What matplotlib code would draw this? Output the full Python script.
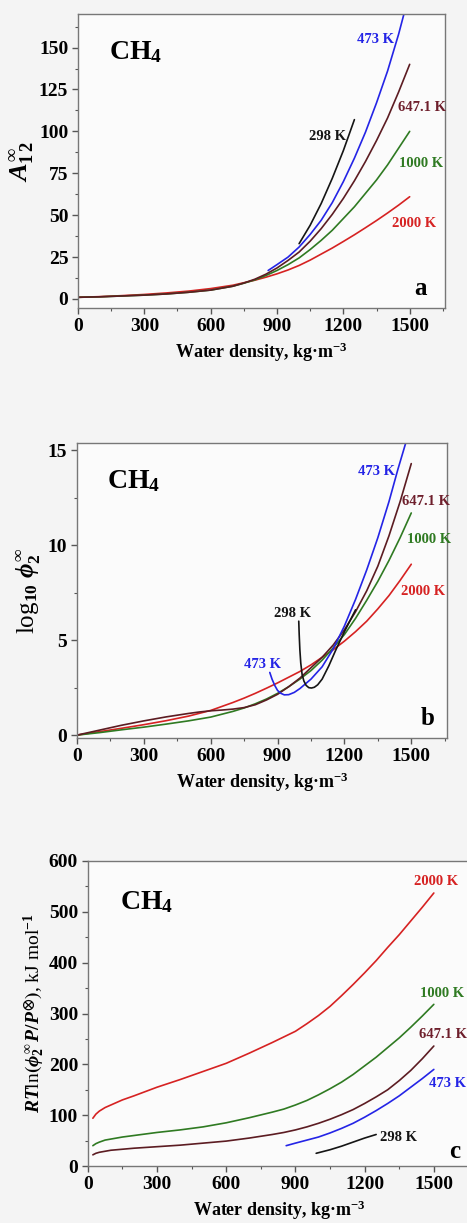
"""CH4 in water: A12, log10 phi2 and RT ln(phi2 P/P0) versus water density."""
import matplotlib
matplotlib.use("Agg")
import matplotlib.pyplot as plt
from matplotlib.ticker import MultipleLocator

plt.rcParams["font.family"] = ["Liberation Serif", "DejaVu Serif"]
plt.rcParams["font.weight"] = "bold"
plt.rcParams["mathtext.fontset"] = "custom"
plt.rcParams["mathtext.rm"] = "Liberation Serif:bold"
plt.rcParams["mathtext.it"] = "Liberation Serif:italic:bold"
plt.rcParams["mathtext.bf"] = "Liberation Serif:bold"
plt.rcParams["mathtext.fallback"] = "stix"

COLORS = {
    "298 K": "#151515",
    "473 K": "#2424e6",
    "647.1 K": "#5c1c22",
    "1000 K": "#2f7a22",
    "2000 K": "#d62222",
}
LABEL_COLORS = dict(COLORS, **{"647.1 K": "#6e1f2c"})

RHO_FULL = [0, 100, 200, 300, 400, 500, 600, 700, 750, 800, 850, 900, 950, 1000, 1050,
            1100, 1150, 1200, 1250, 1300, 1350, 1400, 1450, 1500]

# ---- panel a: A12 infinity ----
a_x = {
    "298 K": [1000, 1050, 1100, 1150, 1200, 1250],
    "473 K": [860, 900, 950, 1000, 1050, 1100, 1150, 1200, 1250, 1300, 1350, 1400, 1450, 1478],
    "647.1 K": RHO_FULL,
    "1000 K": RHO_FULL,
    "2000 K": RHO_FULL,
}
a_y = {
    "298 K": [33, 44, 57, 72, 88.5, 107],
    "473 K": [17, 20.5, 25, 31, 38.5, 47, 57.5, 70, 84, 99.5, 117, 136, 158, 172],
    "647.1 K": [1, 1.3, 1.8, 2.3, 3.0, 4.0, 5.3, 7.6, 9.5, 11.8, 14.8, 18.5, 23, 28, 34.5,
                42, 50.5, 60, 70.5, 82, 94.5, 108, 123.5, 140],
    "1000 K": [1, 1.3, 1.8, 2.3, 3.0, 4.0, 5.3, 7.6, 9.4, 11.4, 14, 17, 20.5, 24.5, 29.5,
               35, 41, 48, 55, 63, 71, 80, 90, 100],
    "2000 K": [1, 1.4, 2.0, 2.7, 3.6, 4.7, 6.2, 8.2, 9.7, 11.2, 13, 15, 17.3, 20, 23.2,
               26.8, 30.4, 34.3, 38.3, 42.5, 46.8, 51.3, 56, 61],
}
a_labels = {
    "473 K": (1430, 155, "right"),
    "647.1 K": (1445, 114, "left"),
    "298 K": (1212, 97, "right"),
    "1000 K": (1450, 81, "left"),
    "2000 K": (1418, 45, "left"),
}

# ---- panel b: log10 phi2 infinity ----
b_x = {
    "2000 K": RHO_FULL,
    "1000 K": RHO_FULL,
    "647.1 K": [0, 100, 200, 300, 400, 500, 550, 600, 650, 700, 750, 800, 850, 900, 950,
                1000, 1050, 1100, 1150, 1200, 1250, 1300, 1350, 1400, 1450, 1500],
    "473 K": [865, 875, 888, 900, 915, 930, 950, 975, 1000, 1050, 1100, 1150, 1200, 1250,
              1300, 1350, 1400, 1440, 1478],
    "298 K": [995, 997, 1000, 1004, 1010, 1018, 1028, 1040, 1052, 1065, 1080, 1100, 1130,
              1160, 1200, 1250],
}
b_y = {
    "2000 K": [0, 0.18, 0.36, 0.55, 0.76, 1.0, 1.3, 1.72, 1.95, 2.2, 2.47, 2.75, 3.05, 3.35,
               3.7, 4.1, 4.5, 4.95, 5.45, 6.0, 6.65, 7.35, 8.15, 9.0],
    "1000 K": [0, 0.13, 0.28, 0.42, 0.58, 0.75, 0.95, 1.25, 1.43, 1.65, 1.9, 2.2, 2.55, 2.95,
               3.4, 3.95, 4.6, 5.3, 6.15, 7.1, 8.1, 9.2, 10.4, 11.7],
    "647.1 K": [0, 0.26, 0.52, 0.75, 0.96, 1.14, 1.22, 1.28, 1.32, 1.37, 1.45, 1.6, 1.85, 2.15,
                2.55, 3.0, 3.55, 4.1, 4.75, 5.55, 6.5, 7.6, 8.9, 10.5, 12.3, 14.3],
    "473 K": [3.3, 2.95, 2.6, 2.35, 2.2, 2.12, 2.13, 2.25, 2.45, 2.95, 3.6, 4.55, 5.75, 7.15,
              8.7, 10.4, 12.3, 14.0, 15.5],
    "298 K": [6.0, 5.3, 4.5, 3.8, 3.2, 2.85, 2.62, 2.5, 2.48, 2.52, 2.65, 2.95, 3.65,
              4.45, 5.45, 6.6],
}
b_labels = {
    "473 K": (1425, 13.9, "right"),
    "647.1 K": (1458, 12.3, "left"),
    "1000 K": (1482, 10.3, "left"),
    "2000 K": (1452, 7.55, "left"),
}
b_extra = [("298 K", 968, 6.4), ("473 K", 832, 3.7)]

# ---- panel c: RT ln(phi2 P/P0), kJ/mol ----
RHO_C = [22, 35, 50, 75, 100, 150, 200, 300, 400, 500, 600, 700, 800, 850, 900, 950, 1000,
         1050, 1100, 1150, 1200, 1250, 1300, 1350, 1400, 1450, 1500]
c_x = {
    "2000 K": RHO_C,
    "1000 K": RHO_C,
    "647.1 K": RHO_C,
    "473 K": [860, 900, 950, 1000, 1050, 1100, 1150, 1200, 1250, 1300, 1350, 1400, 1450, 1500],
    "298 K": [990, 1050, 1100, 1150, 1200, 1250],
}
c_y = {
    "2000 K": [94, 102, 108, 115, 120, 130, 138, 155, 170, 186, 202, 222, 243, 254, 265,
               280, 296, 314, 335, 357, 380, 404, 430, 455, 482, 509, 537],
    "1000 K": [40, 44, 47, 51, 53, 57, 60, 66, 71, 77, 85, 95, 106, 112, 120, 129, 140,
               152, 165, 180, 197, 214, 233, 252, 273, 295, 318],
    "647.1 K": [22, 25, 27, 29, 31, 33, 35, 38, 41, 45, 49, 55, 62, 66, 71, 77, 84, 92, 101,
                111, 123, 136, 150, 168, 188, 211, 236],
    "473 K": [40, 45, 51, 57, 65, 74, 84, 96, 109, 123, 138, 155, 172, 190],
    "298 K": [25, 32, 39, 47, 55, 62],
}
c_labels = {
    "2000 K": (1412, 559, "left"),
    "1000 K": (1442, 340, "left"),
    "647.1 K": (1436, 258, "left"),
    "473 K": (1478, 163, "left"),
    "298 K": (1268, 57, "left"),
}


def style_axes(ax, ylim, ymajor, yminor):
    ax.set_facecolor("#fbfbfb")
    ax.set_xlim(0, 1660)
    ax.set_ylim(*ylim)
    ax.xaxis.set_major_locator(MultipleLocator(300))
    ax.xaxis.set_minor_locator(MultipleLocator(150))
    ax.yaxis.set_major_locator(MultipleLocator(ymajor))
    ax.yaxis.set_minor_locator(MultipleLocator(yminor))
    ax.tick_params(which="major", direction="out", length=4, width=1, labelsize=14,
                   color="#555555", pad=3)
    ax.tick_params(which="minor", direction="out", length=2.5, width=0.8, color="#555555")
    for lab in ax.get_xticklabels() + ax.get_yticklabels():
        lab.set_fontweight("bold")
    for s in ax.spines.values():
        s.set_color("#777777")
        s.set_linewidth(1.0)
    ax.set_xlabel("Water density, kg\u00b7m$^{\\mathbf{-3}}$", fontsize=13,
                  fontweight="bold", labelpad=4)


def draw(ax, xs, ys):
    for key in ["2000 K", "1000 K", "647.1 K", "473 K", "298 K"]:
        ax.plot(xs[key], ys[key], color=COLORS[key], lw=1.2, solid_capstyle="round")


def put_labels(ax, labels):
    for key, (x, y, ha) in labels.items():
        ax.text(x, y, key, color=LABEL_COLORS[key], fontsize=10.5, fontweight="bold",
                ha=ha, va="center")


fig = plt.figure(figsize=(4.67, 12.23), dpi=100, facecolor="#f4f4f4")

# panel a
ax1 = fig.add_axes([0.167, 0.748, 0.786, 0.2405])
draw(ax1, a_x, a_y)
style_axes(ax1, (-5.5, 170), 25, 12.5)
put_labels(ax1, a_labels)
ax1.text(140, 147, "CH$_\\mathbf{4}$", fontsize=20, fontweight="bold", va="center")
ax1.text(1550, 6, "a", fontsize=18, fontweight="bold", ha="center", va="center")
ax1.set_ylabel("$A_{1\\,2}^{\\infty}$", fontsize=19, labelpad=2)

# panel b
ax2 = fig.add_axes([0.165, 0.3966, 0.792, 0.2414])
draw(ax2, b_x, b_y)
style_axes(ax2, (-0.15, 15.4), 5, 2.5)
put_labels(ax2, b_labels)
for key, x, y in b_extra:
    ax2.text(x, y, key, color=LABEL_COLORS[key], fontsize=10.5, fontweight="bold",
             ha="center", va="center")
ax2.text(136, 13.4, "CH$_\\mathbf{4}$", fontsize=20, fontweight="bold", va="center")
ax2.text(1575, 0.85, "b", fontsize=18, fontweight="bold", ha="center", va="center")
ax2.set_ylabel("log$_{\\mathbf{10}}$ $\\phi_{\\mathbf{2}}^{\\infty}$", fontsize=18, labelpad=4)

# panel c
ax3 = fig.add_axes([0.188, 0.0466, 0.82, 0.2494])
draw(ax3, c_x, c_y)
style_axes(ax3, (0, 600), 100, 50)
put_labels(ax3, c_labels)
ax3.text(138, 520, "CH$_\\mathbf{4}$", fontsize=20, fontweight="bold", va="center")
ax3.text(1590, 28, "c", fontsize=18, fontweight="bold", ha="center", va="center")
ax3.set_ylabel("$RT$ln$\\left(\\phi_{\\mathbf{2}}^{\\infty}\\, P/P^{\\otimes}\\right)$, kJ mol$^{\\mathbf{-1}}$",
               fontsize=14, labelpad=1)

fig.savefig("out.png", dpi=100, facecolor=fig.get_facecolor())
